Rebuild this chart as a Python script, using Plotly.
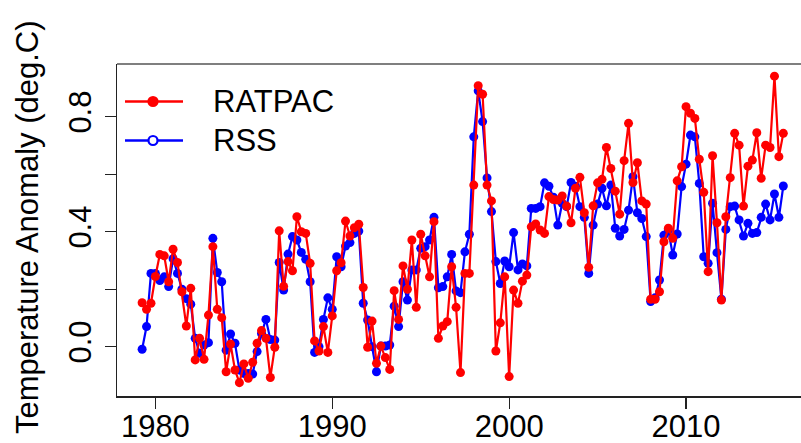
import plotly.graph_objects as go

# quarterly time axis (1979.25 ... 2015.5)
start_year = 1979.25
n_quarters = 146
years = [start_year + 0.25 * i for i in range(n_quarters)]

ratpac = [
    0.153, 0.130, 0.151, 0.244, 0.321, 0.316, 0.226, 0.339, 0.293, 0.191,
    0.072, 0.203, -0.046, 0.029, -0.044, 0.110, 0.348, 0.130, 0.101, -0.087,
    0.009, -0.081, -0.125, -0.060, -0.110, -0.054, 0.012, 0.056, 0.029, -0.107,
    -0.002, 0.403, 0.210, 0.296, 0.264, 0.452, 0.400, 0.394, 0.290, 0.020,
    -0.015, 0.070, -0.020, 0.107, 0.264, 0.292, 0.437, 0.385, 0.414, 0.426,
    0.206, -0.002, 0.089, -0.058, 0.002, -0.038, -0.079, 0.195, 0.095, 0.281,
    0.200, 0.371, 0.137, 0.391, 0.316, 0.243, 0.435, 0.029, 0.072, 0.087,
    0.278, 0.137, -0.090, 0.255, 0.255, 0.562, 0.908, 0.878, 0.562, 0.507,
    -0.015, 0.083, 0.243, -0.104, 0.197, 0.151, 0.228, 0.249, 0.417, 0.427,
    0.406, 0.394, 0.522, 0.512, 0.510, 0.524, 0.489, 0.431, 0.551, 0.589,
    0.466, 0.276, 0.490, 0.570, 0.582, 0.693, 0.620, 0.541, 0.461, 0.647,
    0.777, 0.571, 0.640, 0.507, 0.496, 0.165, 0.165, 0.191, 0.365, 0.412,
    0.377, 0.577, 0.626, 0.835, 0.812, 0.794, 0.652, 0.537, 0.261, 0.664,
    0.431, 0.162, 0.452, 0.588, 0.742, 0.701, 0.489, 0.628, 0.649, 0.744,
    0.586, 0.701, 0.693, 0.941, 0.661, 0.742,
]

rss = [
    -0.009, 0.070, 0.255, 0.255, 0.230, 0.243, 0.209, 0.306, 0.255, 0.200,
    0.167, 0.148, 0.029, -0.023, 0.006, 0.014, 0.377, 0.258, 0.226, -0.012,
    0.044, 0.012, -0.081, -0.093, -0.093, -0.095, -0.017, 0.046, 0.095, 0.025,
    0.023, 0.293, 0.197, 0.322, 0.383, 0.371, 0.328, 0.304, 0.226, -0.020,
    0.000, 0.095, 0.170, 0.130, 0.313, 0.278, 0.350, 0.362, 0.394, 0.402,
    0.151, 0.093, 0.000, -0.087, 0.002, 0.002, 0.006, 0.141, 0.070, 0.226,
    0.162, 0.267, 0.267, 0.342, 0.348, 0.371, 0.450, 0.205, 0.209, 0.243,
    0.321, 0.194, 0.188, 0.330, 0.391, 0.730, 0.890, 0.783, 0.587, 0.470,
    0.296, 0.220, 0.298, 0.278, 0.397, 0.267, 0.288, 0.281, 0.481, 0.481,
    0.487, 0.570, 0.558, 0.520, 0.423, 0.499, 0.487, 0.571, 0.558, 0.487,
    0.450, 0.255, 0.423, 0.496, 0.551, 0.490, 0.562, 0.412, 0.385, 0.408,
    0.475, 0.591, 0.466, 0.446, 0.383, 0.157, 0.170, 0.232, 0.388, 0.406,
    0.319, 0.392, 0.557, 0.635, 0.736, 0.730, 0.568, 0.313, 0.290, 0.499,
    0.327, 0.165, 0.408, 0.487, 0.489, 0.441, 0.385, 0.429, 0.394, 0.397,
    0.450, 0.496, 0.441, 0.531, 0.450, 0.559,
]

x_ticks = [1980, 1990, 2000, 2010]
x_tick_labels = ["1980", "1990", "2000", "2010"]
y_ticks = [0.0, 0.2, 0.4, 0.6, 0.8]
y_tick_labels = ["0.0", "", "0.4", "", "0.8"]
series_names = ["RATPAC", "RSS"]
y_title = "Temperature Anomaly (deg.C)"

RED = "#FF0000"
BLUE = "#0000FF"
FONT = "Liberation Sans, Arial, sans-serif"

W, H = 801, 443
L, R, T, B = 117, 0, 64, 47
pw = W - L - R
ph = H - T - B

fig = go.Figure()
fig.add_trace(go.Scatter(x=years, y=rss, mode="lines+markers", name=series_names[1],
                         line=dict(color=BLUE, width=2.2),
                         marker=dict(color=BLUE, size=9), showlegend=False))
fig.add_trace(go.Scatter(x=years, y=ratpac, mode="lines+markers", name=series_names[0],
                         line=dict(color=RED, width=2.2),
                         marker=dict(color=RED, size=9), showlegend=False))

def px_x(p):
    return (p - L) / pw

def px_y(p):
    return 1 - (p - T) / ph

shapes = []
annotations = []
# top border of the box (right edge is cut off in the reference)
shapes.append(dict(type="line", xref="paper", yref="paper", x0=0, x1=1.01, y0=1, y1=1,
                   line=dict(color="#555555", width=1.5)))
# legend
leg = [(series_names[0], RED, 101.5, True), (series_names[1], BLUE, 140.5, False)]
for name, col, yy, filled in leg:
    shapes.append(dict(type="line", xref="paper", yref="paper",
                       x0=px_x(125), x1=px_x(183), y0=px_y(yy), y1=px_y(yy),
                       line=dict(color=col, width=2.5)))
    r = 4.5
    shapes.append(dict(type="circle", xref="paper", yref="paper",
                       x0=px_x(153 - r), x1=px_x(153 + r), y0=px_y(yy + r), y1=px_y(yy - r),
                       line=dict(color=col, width=2.2),
                       fillcolor=col if filled else "white"))
    annotations.append(dict(text=name, xref="paper", yref="paper", x=px_x(211), y=px_y(yy),
                            xanchor="left", yanchor="middle", showarrow=False,
                            font=dict(family=FONT, size=31, color="black")))
annotations.append(dict(text=y_title, xref="paper", yref="paper", x=px_x(27), y=px_y(227),
                        xanchor="center", yanchor="middle", textangle=-90, showarrow=False,
                        font=dict(family=FONT, size=31, color="black")))

fig.update_layout(
    width=W, height=H,
    margin=dict(l=L, r=R, t=T, b=B, pad=0, autoexpand=False),
    paper_bgcolor="white", plot_bgcolor="white",
    font=dict(family=FONT, size=31, color="black"),
    shapes=shapes, annotations=annotations,
    showlegend=False,
)
fig.update_xaxes(range=[1977.83, 2016.5], tickvals=x_ticks, ticktext=x_tick_labels,
                 automargin=False,
                 showgrid=False, zeroline=False, showline=True, linecolor="#222222",
                 linewidth=1.5, mirror=False, ticks="outside", ticklen=11, tickwidth=1.2,
                 tickcolor="#222222", ticklabelstandoff=-9,
                 tickfont=dict(family=FONT, size=31, color="black"))
fig.update_yaxes(range=[-0.1715, 0.9833], tickvals=y_ticks, ticktext=y_tick_labels,
                 automargin=False,
                 showgrid=False, zeroline=False, showline=True, linecolor="#222222",
                 linewidth=1.5, mirror=False, ticks="outside", ticklen=11, tickwidth=1.2,
                 tickcolor="#222222", tickangle=-90, ticklabelstandoff=1,
                 tickfont=dict(family=FONT, size=31, color="black"))

fig.write_html(
    "out.html",
    config={"displayModeBar": False, "staticPlot": True},
    post_script="document.body.style.margin='0';document.body.style.overflow='hidden';",
)
